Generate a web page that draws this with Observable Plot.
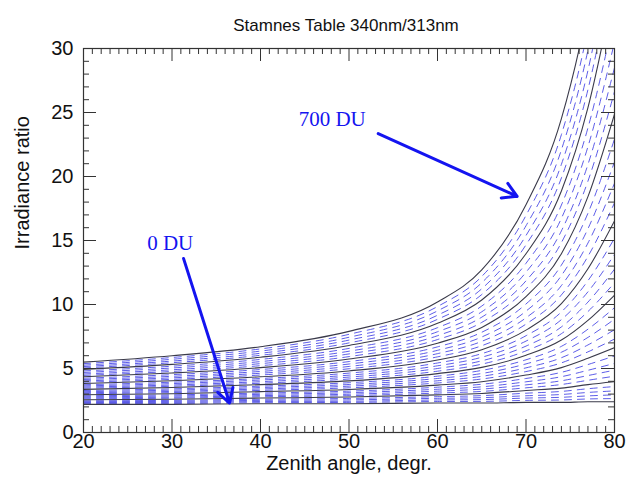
<!DOCTYPE html>
<html>
<head>
<meta charset="utf-8">
<script src="https://cdn.jsdelivr.net/npm/d3@7"></script>
<script src="https://cdn.jsdelivr.net/npm/@observablehq/plot@0.6"></script>
<style>
  html, body { margin: 0; padding: 0; background: #fff; }
  svg { display: block; }
</style>
</head>
<body>
<div id="chart"></div>
<script>
// ---- Data ----
const title = "Stamnes Table 340nm/313nm";
const xTitle = "Zenith angle, degr.";
const yTitle = "Irradiance ratio";

const zenith = [20, 30, 40, 50, 60, 65, 70, 74, 77, 80];
const ozone = [0, 20, 40, 60, 80, 100, 120, 140, 160, 180, 200, 220, 240, 260, 280, 300, 320, 340,
               360, 380, 400, 420, 440, 460, 480, 500, 520, 540, 560, 580, 600, 620, 640, 660, 680, 700];

// irradiance ratio for each ozone value (same order as `ozone`), one list per zenith angle
const ratioAt20 = [2.20,2.27,2.34,2.41,2.48,2.56,2.63,2.71,2.79,2.87,2.95,3.03,3.11,3.19,3.28,3.37,3.46,3.55,3.64,3.73,3.83,3.93,4.03,4.14,4.24,4.35,4.46,4.57,4.69,4.81,4.93,5.04,5.15,5.26,5.38,5.50];
const ratioAt30 = [2.20,2.27,2.35,2.43,2.51,2.60,2.68,2.76,2.85,2.94,3.03,3.12,3.21,3.31,3.41,3.51,3.61,3.71,3.82,3.93,4.04,4.15,4.27,4.39,4.52,4.65,4.77,4.90,5.04,5.18,5.32,5.45,5.58,5.72,5.86,6.00];
const ratioAt40 = [2.25,2.33,2.42,2.51,2.60,2.69,2.79,2.88,2.98,3.08,3.19,3.29,3.40,3.51,3.62,3.74,3.85,3.97,4.10,4.22,4.35,4.49,4.63,4.77,4.92,5.07,5.22,5.38,5.54,5.71,5.88,6.03,6.19,6.36,6.53,6.70];
const ratioAt50 = [2.25,2.35,2.44,2.55,2.66,2.77,2.88,2.99,3.11,3.23,3.36,3.49,3.62,3.75,3.89,4.03,4.18,4.33,4.48,4.64,4.81,4.98,5.16,5.35,5.54,5.74,5.93,6.14,6.35,6.57,6.80,7.00,7.22,7.44,7.67,7.90];
const ratioAt60 = [2.30,2.42,2.54,2.67,2.80,2.94,3.08,3.23,3.38,3.54,3.70,3.87,4.04,4.22,4.40,4.60,4.79,5.00,5.21,5.43,5.66,5.91,6.16,6.42,6.69,6.98,7.26,7.56,7.87,8.19,8.53,8.84,9.16,9.50,9.84,10.20];
const ratioAt65 = [2.30,2.43,2.57,2.72,2.88,3.05,3.21,3.39,3.57,3.77,3.97,4.18,4.39,4.61,4.85,5.09,5.34,5.60,5.88,6.16,6.47,6.78,7.12,7.46,7.83,8.21,8.60,9.01,9.43,9.88,10.35,10.78,11.23,11.70,12.19,12.70];
const ratioAt70 = [2.35,2.51,2.69,2.87,3.07,3.28,3.49,3.72,3.96,4.22,4.49,4.76,5.05,5.36,5.68,6.03,6.38,6.75,7.14,7.56,8.00,8.47,8.96,9.48,10.04,10.62,11.22,11.85,12.52,13.22,13.96,14.66,15.39,16.15,16.96,17.80];
const ratioAt74 = [2.35,2.54,2.75,2.97,3.21,3.47,3.75,4.04,4.36,4.70,5.07,5.44,5.84,6.27,6.73,7.22,7.72,8.25,8.82,9.42,10.07,10.75,11.48,12.26,13.08,13.97,14.83,15.75,16.73,17.77,18.87,19.89,20.95,22.08,23.27,24.52];
const ratioAt77 = [2.40,2.62,2.86,3.13,3.42,3.74,4.08,4.45,4.86,5.31,5.80,6.30,6.84,7.43,8.07,8.76,9.45,10.19,10.99,11.86,12.79,13.76,14.80,15.92,17.13,18.43,19.64,20.94,22.33,23.80,25.38,26.79,28.29,29.87,31.52,33.29];
const ratioAt80 = [2.40,2.65,2.94,3.25,3.59,3.97,4.40,4.87,5.40,5.98,6.62,7.30,8.03,8.85,9.75,10.73,11.70,12.76,13.91,15.17,16.53,17.94,19.47,21.13,22.92,24.88,26.63,28.50,30.50,32.65,34.95,36.97,39.11,41.37,43.77,46.30];

const ratioByZenith = [ratioAt20, ratioAt30, ratioAt40, ratioAt50, ratioAt60, ratioAt65, ratioAt70, ratioAt74, ratioAt77, ratioAt80];

// tick values
const xMajorTicks = [20, 30, 40, 50, 60, 70, 80];
const xMinorTicks = [21,22,23,24,25,26,27,28,29,31,32,33,34,35,36,37,38,39,41,42,43,44,45,46,47,48,49,
                     51,52,53,54,55,56,57,58,59,61,62,63,64,65,66,67,68,69,71,72,73,74,75,76,77,78,79];
const yMajorTicks = [0, 5, 10, 15, 20, 25, 30];
const yMinorTicks = [1,2,3,4,6,7,8,9,11,12,13,14,16,17,18,19,21,22,23,24,26,27,28,29];

// annotations (data coordinates)
const annotations = [
  {label: "700 DU", tx: 48.1, ty: 24.45, x1: 53.3, y1: 23.35, x2: 69.0, y2: 18.45},
  {label: "0 DU",   tx: 29.8, ty: 14.8,  x1: 31.3, y1: 13.6,  x2: 36.5, y2: 2.3}
];

// ---- Build table ----
const rows = [];
ozone.forEach((oz, i) => {
  zenith.forEach((z, k) => rows.push({ozone: oz, zenith: z, ratio: ratioByZenith[k][i]}));
});
const solidRows = rows.filter(d => d.ozone % 100 === 0);
const dashedRows = rows.filter(d => d.ozone % 100 !== 0);

// ---- Layout ----
const W = 635, H = 484, mL = 83, mR = 21, mT = 48, mB = 52;
const fw = W - mL - mR, fh = H - mT - mB;
const axisColor = "#333";
const blue = "#1414f0";
const majorLen = 13, minorLen = 6;

const chart = Plot.plot({
  width: W, height: H,
  marginLeft: mL, marginRight: mR, marginTop: mT, marginBottom: mB,
  style: {fontFamily: "'Liberation Sans', Arial, Helvetica, sans-serif", background: "#fff", color: "#111"},
  x: {domain: [20, 80]},
  y: {domain: [0, 30]},
  marks: [
    Plot.line(dashedRows, {x: "zenith", y: "ratio", z: "ozone", stroke: "#3434e2", strokeWidth: 1,
      strokeOpacity: 0.8, strokeDasharray: "7,6", curve: "monotone-x", clip: true}),
    Plot.line(solidRows, {x: "zenith", y: "ratio", z: "ozone", stroke: "#3a3a4a", strokeWidth: 1.1,
      curve: "monotone-x", clip: true}),
    Plot.frame({stroke: axisColor, strokeWidth: 1.2}),
    // inward ticks: bottom & top
    Plot.tickX(xMajorTicks, {x: d => d, insetTop: fh - majorLen, stroke: axisColor}),
    Plot.tickX(xMinorTicks, {x: d => d, insetTop: fh - minorLen, stroke: axisColor}),
    Plot.tickX(xMajorTicks, {x: d => d, insetBottom: fh - majorLen, stroke: axisColor}),
    Plot.tickX(xMinorTicks, {x: d => d, insetBottom: fh - minorLen, stroke: axisColor}),
    // inward ticks: left & right
    Plot.tickY(yMajorTicks, {y: d => d, insetRight: fw - majorLen, stroke: axisColor}),
    Plot.tickY(yMinorTicks, {y: d => d, insetRight: fw - minorLen, stroke: axisColor}),
    Plot.tickY(yMajorTicks, {y: d => d, insetLeft: fw - majorLen, stroke: axisColor}),
    Plot.tickY(yMinorTicks, {y: d => d, insetLeft: fw - minorLen, stroke: axisColor}),
    // tick labels
    Plot.axisX({ticks: xMajorTicks, tickSize: 0, tickPadding: 1, fontSize: 20, label: null}),
    Plot.axisY({ticks: yMajorTicks, tickSize: 0, tickPadding: 10, fontSize: 20, label: null}),
    // titles
    Plot.text([xTitle], {frameAnchor: "bottom", dy: 37, fontSize: 20, fill: "#111"}),
    Plot.text([yTitle], {frameAnchor: "left", dx: -61, dy: 9, rotate: -90, fontSize: 20, fill: "#111"}),
    Plot.text([title], {frameAnchor: "top", dy: -30, dx: -3, fontSize: 17, fill: "#111"}),
    // annotations
    Plot.arrow(annotations, {x1: "x1", y1: "y1", x2: "x2", y2: "y2", stroke: blue, strokeWidth: 3,
      headLength: 8, headAngle: 60}),
    Plot.text(annotations, {x: "tx", y: "ty", text: "label", fill: blue, fontSize: 21,
      fontFamily: "'Liberation Serif', 'Times New Roman', serif"})
  ]
});

document.getElementById("chart").appendChild(chart);
</script>
</body>
</html>
